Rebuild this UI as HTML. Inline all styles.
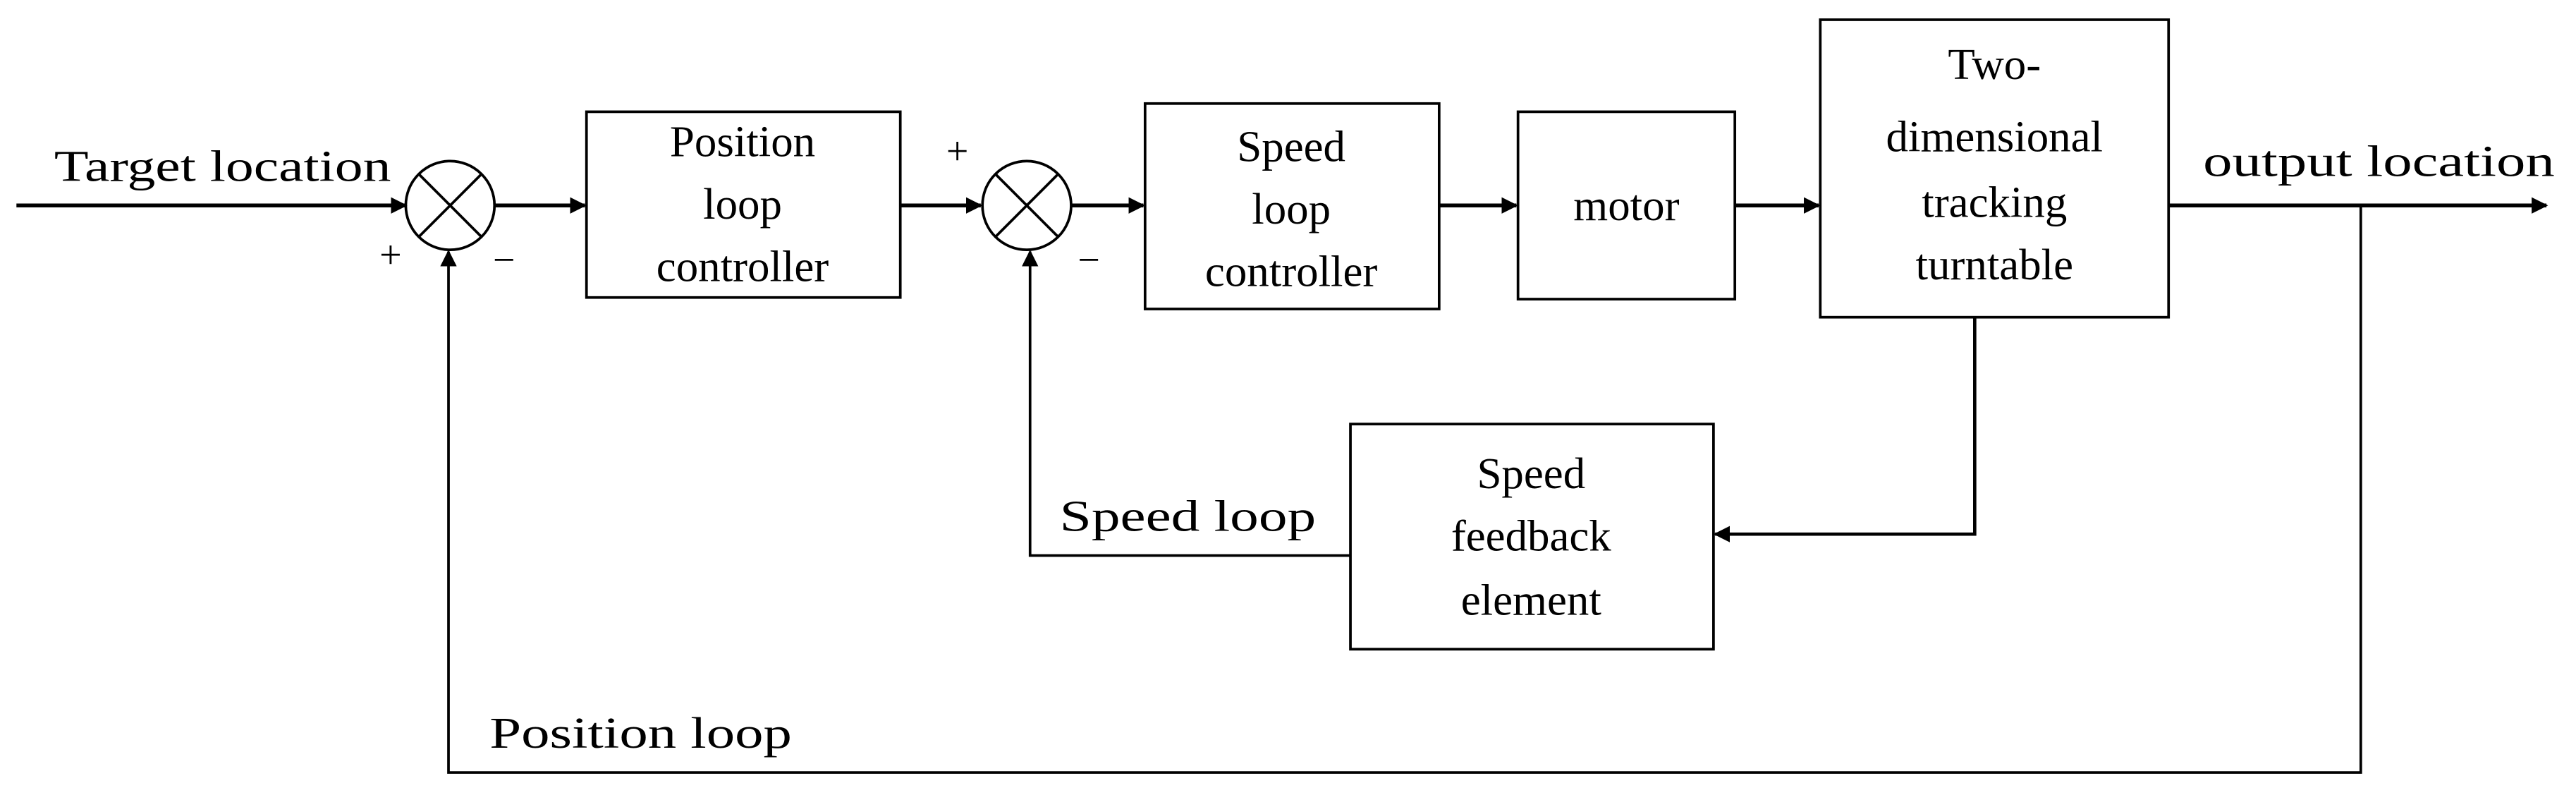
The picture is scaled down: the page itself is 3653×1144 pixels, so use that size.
<!DOCTYPE html>
<html><head><meta charset="utf-8"><style>
html,body{margin:0;padding:0;background:#fff;overflow:hidden;}
svg{display:block;}
text{font-family:"Liberation Serif",serif;font-size:27px;fill:#000;}
</style></head><body>
<svg width="3653" height="1144" viewBox="0 0 1568 491" preserveAspectRatio="none" xmlns="http://www.w3.org/2000/svg">
<defs>
<marker id="a" markerWidth="10" markerHeight="10" refX="9" refY="5" orient="auto" markerUnits="userSpaceOnUse">
<path d="M0,0 L10,5 L0,10 z" fill="#000"/></marker>
</defs>
<g stroke="#000" stroke-width="1.6" fill="none">
<line x1="10" y1="125" x2="247" y2="125" stroke-width="2.4" marker-end="url(#a)"/>
<circle cx="274" cy="125" r="27" />
<line x1="255" y1="106" x2="293" y2="144"/><line x1="293" y1="106" x2="255" y2="144"/>
<line x1="301" y1="125" x2="356" y2="125" stroke-width="2.4" marker-end="url(#a)"/>
<rect x="357" y="68" width="191" height="113"/>
<line x1="548" y1="125" x2="597" y2="125" stroke-width="2.4" marker-end="url(#a)"/>
<circle cx="625" cy="125" r="27"/>
<line x1="606" y1="106" x2="644" y2="144"/><line x1="644" y1="106" x2="606" y2="144"/>
<line x1="652" y1="125" x2="696" y2="125" stroke-width="2.4" marker-end="url(#a)"/>
<rect x="697" y="63" width="179" height="125"/>
<line x1="876" y1="125" x2="923" y2="125" stroke-width="2.4" marker-end="url(#a)"/>
<rect x="924" y="68" width="132" height="114"/>
<line x1="1056" y1="125" x2="1107" y2="125" stroke-width="2.4" marker-end="url(#a)"/>
<rect x="1108" y="12" width="212" height="181"/>
<line x1="1320" y1="125" x2="1550" y2="125" stroke-width="2.4" marker-end="url(#a)"/>
<polyline points="1202,193 1202,325 1044,325" stroke-width="2" marker-end="url(#a)"/>
<rect x="822" y="258" width="221" height="137"/>
<polyline points="822,338 627,338 627,153" marker-end="url(#a)"/>
<polyline points="1437,125 1437,470 273,470 273,153" marker-end="url(#a)"/>
</g>
<text x="33" y="110" textLength="205" lengthAdjust="spacingAndGlyphs">Target location</text>
<text x="1341" y="107" textLength="214" lengthAdjust="spacingAndGlyphs">output location</text>
<text x="231" y="163" style="font-size:24px">+</text>
<text x="300" y="166" style="font-size:24px">−</text>
<text x="576" y="100" style="font-size:24px">+</text>
<text x="656" y="166" style="font-size:24px">−</text>
<g text-anchor="middle">
<text x="452" y="95">Position</text><text x="452" y="133">loop</text><text x="452" y="171">controller</text>
<text x="786" y="98">Speed</text><text x="786" y="136">loop</text><text x="786" y="174">controller</text>
<text x="990" y="134">motor</text>
<text x="1214" y="48">Two-</text><text x="1214" y="92">dimensional</text><text x="1214" y="132">tracking</text><text x="1214" y="170">turntable</text>
<text x="932" y="297">Speed</text><text x="932" y="335">feedback</text><text x="932" y="374">element</text>
</g>
<text x="645" y="323" textLength="156" lengthAdjust="spacingAndGlyphs">Speed loop</text>
<text x="298" y="455" textLength="184" lengthAdjust="spacingAndGlyphs">Position loop</text>
</svg>
</body></html>
